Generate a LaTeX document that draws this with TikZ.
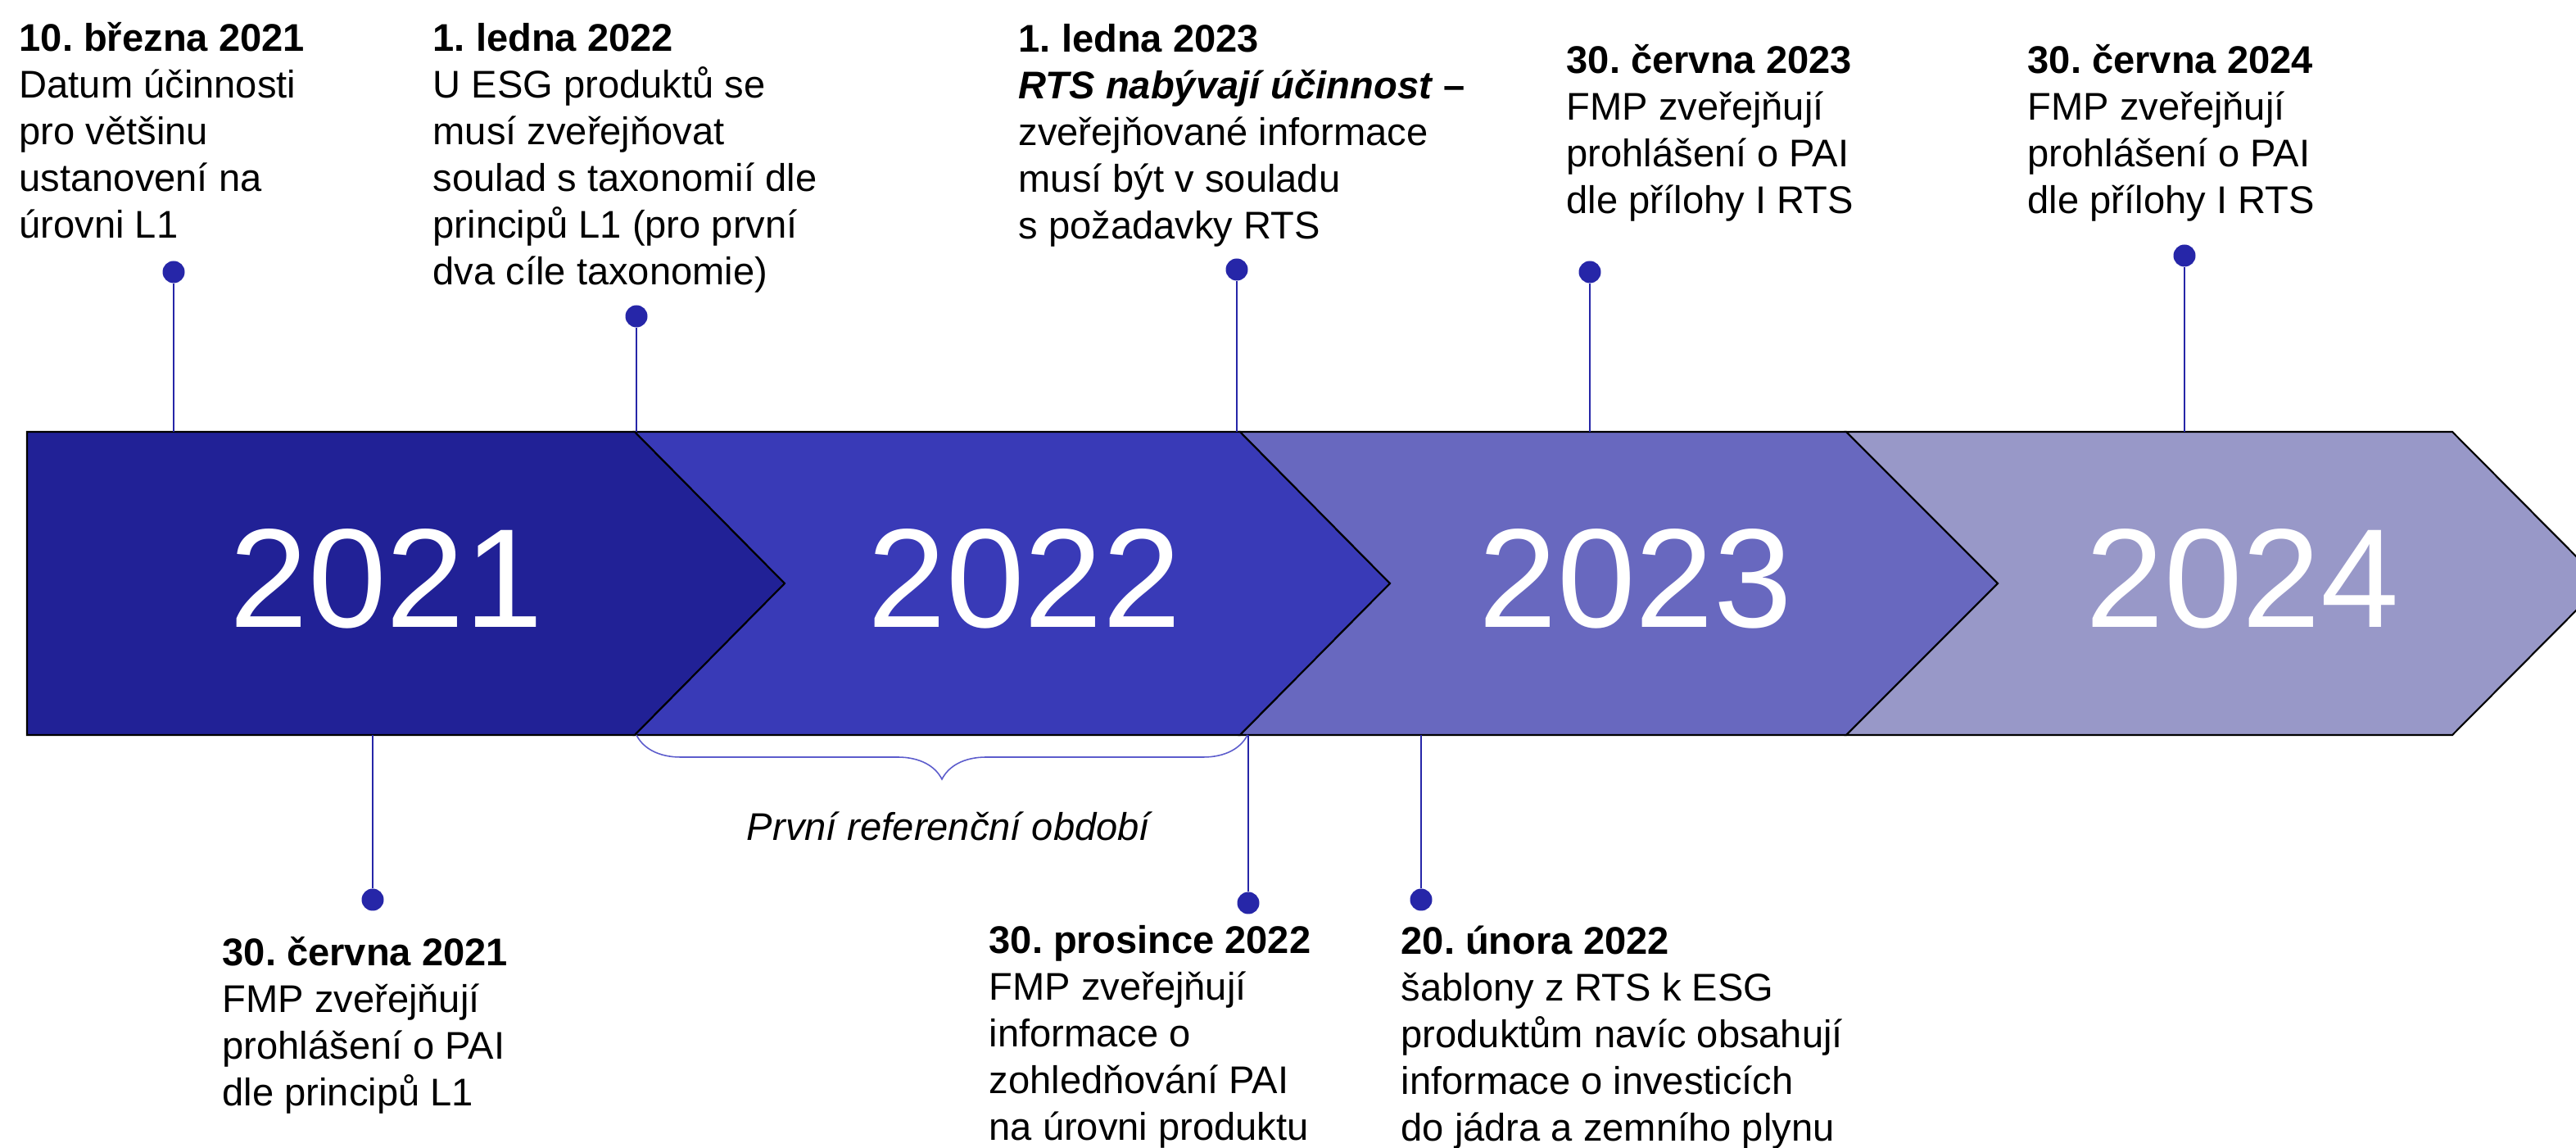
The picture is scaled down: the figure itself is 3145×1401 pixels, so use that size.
\documentclass[tikz,border=0pt]{standalone}
\usepackage{fontspec}
\setmainfont{Liberation Sans}
\usetikzlibrary{positioning, decorations.pathreplacing}
\frenchspacing

\definecolor{yearA}{RGB}{33,33,150}
\definecolor{yearB}{RGB}{57,58,183}
\definecolor{yearC}{RGB}{104,104,191}
\definecolor{yearD}{RGB}{152,152,200}
\definecolor{pin}{RGB}{38,38,168}
\definecolor{bracecol}{RGB}{92,92,204}

\begin{document}
\begin{tikzpicture}[
  x=0.1mm, y=0.1mm,
  every node/.style={font=\fontsize{13.4}{16.2}\selectfont},
  chevron/.style={draw=black, line width=0.6pt},
  year/.style={text=white, inner sep=0pt, font=\fontsize{48.9}{58}\selectfont},
  event/.style={anchor=north west, align=left, inner sep=0pt},
  milestone/.style={circle, fill=pin, inner sep=0pt, minimum size=2.7mm},
  stem/.style={draw=pin, line width=0.7pt},
  period/.style={draw=bracecol, line width=0.45pt, decorate,
                 decoration={brace, mirror, amplitude=5.4mm}},
  note/.style={anchor=base, font=\fontsize{13.4}{16.2}\selectfont\itshape}
]
  \useasboundingbox (0,0) rectangle (3145,1401);

  % Timeline band (left to right)
  \filldraw[chevron, fill=yearA] (33,874) -- (775,874) -- (958,689) -- (775,504) -- (33,504) -- cycle;
  \filldraw[chevron, fill=yearB] (775,874) -- (1514,874) -- (1697,689) -- (1514,504) -- (775,504) -- (958,689) -- cycle;
  \filldraw[chevron, fill=yearC] (1514,874) -- (2254,874) -- (2439,689) -- (2254,504) -- (1514,504) -- (1697,689) -- cycle;
  \filldraw[chevron, fill=yearD] (2254,874) -- (2994,874) -- (3178,689) -- (2994,504) -- (2254,504) -- (2439,689) -- cycle;

  \coordinate (bandtop) at (0,874);
  \coordinate (bandbot) at (0,504);

  \node[year] (y2021) at (472,695) {2021};
  \node[year] (y2022) at (1251,695) {2022};
  \node[year] (y2023) at (1997,695) {2023};
  \node[year] (y2024) at (2738,695) {2024};

  % Milestones above the band
  \node[milestone] (m1) at (212,1069) {};
  \node[milestone] (m2) at (777,1015) {};
  \node[milestone] (m3) at (1510,1072) {};
  \node[milestone] (m4) at (1941,1069) {};
  \node[milestone] (m5) at (2667,1089) {};

  % Milestones below the band
  \node[milestone] (m6) at (455,303) {};
  \node[milestone] (m7) at (1524,299) {};
  \node[milestone] (m8) at (1735,303) {};

  % Texts
  \node[event] (e1) at (23,1379)
    {\strut\textbf{10. března 2021}\\Datum účinnosti\\pro většinu\\ustanovení na\\úrovni L1};
  \node[event] (e2) at (528,1379)
    {\strut\textbf{1. ledna 2022}\\U ESG produktů se\\musí zveřejňovat\\soulad s taxonomií dle\\principů L1 (pro první\\dva cíle taxonomie)};
  \node[event] (e3) at (1243,1378)
    {\strut\textbf{1. ledna 2023}\\\textbf{\textit{RTS nabývají účinnost}} \textbf{–}\\zveřejňované informace\\musí být v souladu\\s požadavky RTS};
  \node[event] (e4) at (1912,1352)
    {\strut\textbf{30. června 2023}\\FMP zveřejňují\\prohlášení o PAI\\dle přílohy I RTS};
  \node[event] (e5) at (2475,1352)
    {\strut\textbf{30. června 2024}\\FMP zveřejňují\\prohlášení o PAI\\dle přílohy I RTS};
  \node[event] (e6) at (271,263)
    {\strut\textbf{30. června 2021}\\FMP zveřejňují\\prohlášení o PAI\\dle principů L1};
  \node[event] (e7) at (1207,278)
    {\strut\textbf{30. prosince 2022}\\FMP zveřejňují\\informace o\\zohledňování PAI\\na úrovni produktu};
  \node[event] (e8) at (1710,277)
    {\strut\textbf{20. února 2022}\\šablony z RTS k ESG\\produktům navíc obsahují\\informace o investicích\\do jádra a zemního plynu};

  % Reference period
  \coordinate (p1) at (777,504);
  \coordinate (p2) at (1523,504);
  \draw[period] (p1) -- (p2);
  \node[note] (plabel) at (1158,375) {První referenční období};

  % Stems
  \draw[stem] (m1) -- (m1 |- bandtop);
  \draw[stem] (m2) -- (m2 |- bandtop);
  \draw[stem] (m3) -- (m3 |- bandtop);
  \draw[stem] (m4) -- (m4 |- bandtop);
  \draw[stem] (m5) -- (m5 |- bandtop);
  \draw[stem] (m6) -- (m6 |- bandbot);
  \draw[stem] (m7) -- (m7 |- bandbot);
  \draw[stem] (m8) -- (m8 |- bandbot);
\end{tikzpicture}
\end{document}
